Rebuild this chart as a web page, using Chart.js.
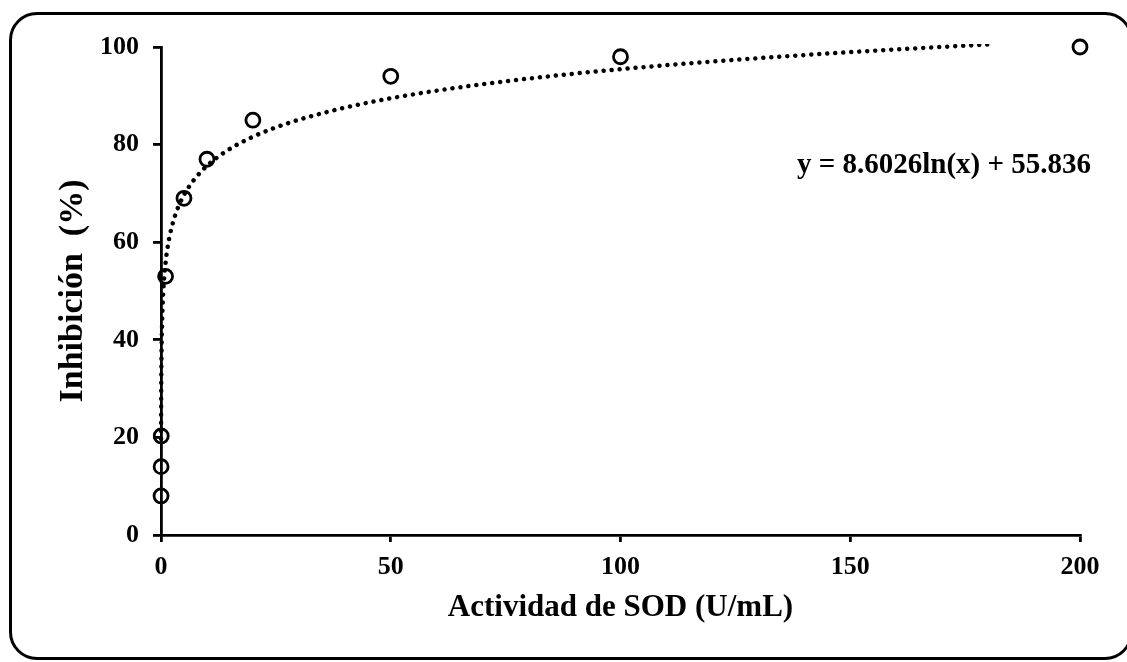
<!DOCTYPE html>
<html>
<head>
<meta charset="utf-8">
<script src="https://cdn.jsdelivr.net/npm/chart.js@4/dist/chart.umd.min.js"></script>
<style>
  html,body{margin:0;padding:0;background:#fff;overflow:hidden;}
  #wrap{position:relative;width:1127px;height:662px;}
  #frame{
    position:absolute;left:9px;top:12px;width:1124px;height:648px;
    border:3px solid #000;border-radius:28px;box-sizing:border-box;pointer-events:none;
  }
</style>
</head>
<body>
<div id="wrap">
  <canvas id="sod" width="1127" height="662"></canvas>
  <div id="frame"></div>
</div>
<script>

// measured points: SOD activity (U/mL) vs inhibition (%)
const actividad=[0.01,0.02,0.05,1,5,10,20,50,100,200];
const inhibicion=[8,14,20.3,53,69,77,85,94,98,100];

// logarithmic trend: y = a ln(x) + b
const coefA=8.6026;
const coefB=55.836;
const trendX=[0.015,0.03,0.06,0.12,0.25,0.5,1,1.5,2,3,4,5,7,10,13,16,20,25,30,40,50,60,75,90,110,130,150,165,180];

const xTicks=[0,50,100,150,200];
const yTicks=[0,20,40,60,80,100];

const serif="'Liberation Serif','Times New Roman',serif";

let puntos=actividad.map((x,i)=>({x:x,y:inhibicion[i]}));
let tendencia=trendX.map(x=>({x:x,y:coefA*Math.log(x)+coefB}));

const equationLabel={
    id:"equationLabel",
    afterDraw(chart){
        let ctx=chart.ctx;
        let area=chart.chartArea;
        let yPix=chart.scales.y.getPixelForValue(75.8);
        ctx.save();
        ctx.font="bold 29px "+serif;
        ctx.fillStyle="#000";
        ctx.textAlign="right";
        ctx.textBaseline="middle";
        ctx.fillText("y = "+coefA+"ln(x) + "+coefB,area.right+11,yPix);
        ctx.restore();
    }
};

new Chart(
    document.getElementById("sod"),
    {
        type:"scatter",
        data:{
            datasets:[
                {
                    data:tendencia,
                    showLine:true,
                    pointRadius:0,
                    borderColor:"#000",
                    borderWidth:4.5,
                    borderDash:[0.01,8],
                    borderCapStyle:"round",
                    cubicInterpolationMode:"monotone",
                    fill:false,
                    clip:3
                },
                {
                    data:puntos,
                    showLine:false,
                    pointRadius:7,
                    pointBorderWidth:2.8,
                    pointBorderColor:"#000",
                    pointBackgroundColor:"rgba(0,0,0,0)",
                    clip:false
                }
            ]
        },
        options:{
            responsive:false,
            animation:false,
            events:[],
            layout:{
                padding:{left:49,top:47,right:47,bottom:31}
            },
            plugins:{
                legend:{display:false},
                tooltip:{enabled:false}
            },
            scales:{
                x:{
                    type:"linear",
                    min:0,
                    max:200,
                    afterBuildTicks:s=>{s.ticks=xTicks.map(v=>({value:v}));},
                    afterFit:s=>{s.height=96;},
                    border:{color:"#000",width:2.8},
                    grid:{drawOnChartArea:false,drawTicks:true,tickLength:7,color:"#000",lineWidth:2.8},
                    ticks:{color:"#000",padding:10,font:{family:serif,size:26,weight:"bold"}},
                    title:{
                        display:true,
                        text:"Actividad de SOD (U/mL)",
                        color:"#000",
                        font:{family:serif,size:31,weight:"bold"}
                    }
                },
                y:{
                    min:0,
                    max:100,
                    afterBuildTicks:s=>{s.ticks=yTicks.map(v=>({value:v}));},
                    afterFit:s=>{s.width=112;},
                    border:{color:"#000",width:2.8},
                    grid:{drawOnChartArea:false,drawTicks:true,tickLength:8,color:"#000",lineWidth:2.8},
                    ticks:{color:"#000",padding:14,font:{family:serif,size:26,weight:"bold"}},
                    title:{
                        display:true,
                        text:"Inhibición  (%)",
                        color:"#000",
                        font:{family:serif,size:34,weight:"bold"}
                    }
                }
            }
        },
        plugins:[equationLabel]
    }
);
</script>
</body>
</html>
